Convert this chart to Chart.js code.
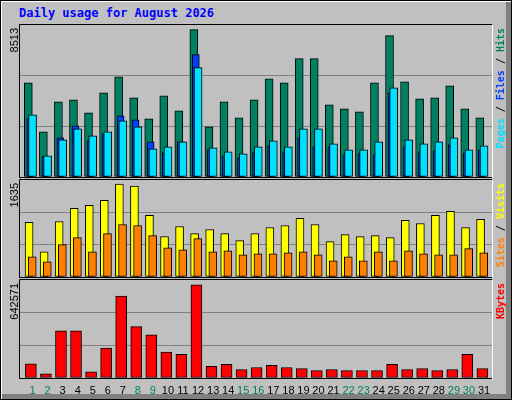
<!DOCTYPE html>
<html><head><meta charset="utf-8">
<script src="https://cdn.jsdelivr.net/npm/chart.js@4/dist/chart.umd.min.js"></script>
<style>
body{margin:0;background:#fff}
#frame{position:absolute;left:0;top:0;width:510px;height:398px;border:1px solid #000;background:#C0C0C0;box-shadow:inset 1px 1px 0 #fff,inset -5px -5px 0 #808080}
#title{position:absolute;left:19px;top:6px;font:bold 12px "DejaVu Sans Mono",monospace;color:#0000FF}
canvas{position:absolute;left:0}
</style></head><body>
<div id="frame"></div>
<div id="title">Daily usage for August 2026</div>
<canvas id="c1" style="top:24px"></canvas>
<canvas id="c2" style="top:179px"></canvas>
<canvas id="c3" style="top:279px"></canvas>
<script>
const days=[1,2,3,4,5,6,7,8,9,10,11,12,13,14,15,16,17,18,19,20,21,22,23,24,25,26,27,28,29,30,31];
const weekend=[1,2,8,9,15,16,22,23,29,30];
const hits=[5443,2605,4342,4458,3705,4863,5790,4574,3358,4690,3821,8513,2895,4342,3416,4458,5674,5443,6832,6832,4169,3937,3763,5443,8164,5500,4516,4574,5269,3937,3416];
const files=[3377,1177,2258,2953,2084,2490,3532,3300,2027,1390,2027,7064,1563,1216,1100,1448,1795,1448,2258,1737,1737,1274,1332,1274,4864,1737,1390,1505,1853,1390,1563];
const pages=[3590,1216,2142,2779,2374,2606,3242,2895,1621,1737,2027,6311,1679,1448,1332,1737,2084,1737,2779,2779,1911,1563,1563,2027,5153,2142,1911,2027,2258,1563,1795];
const visits=[960,444,977,1208,1262,1351,1635,1599,1084,711,889,764,835,764,640,764,871,906,1031,924,622,746,711,729,693,995,942,1084,1155,871,1013];
const sites=[355,267,569,693,444,764,924,906,729,515,480,675,444,462,391,409,409,427,444,391,284,355,284,444,284,462,409,391,391,498,427];
const kbytes=[98500,28140,326000,326000,42200,206400,565200,354100,297800,178200,164200,642571,79700,93800,58600,72700,86800,72700,65700,51600,58600,51600,51600,51600,93800,58600,65700,51600,58600,164200,65700];

Chart.defaults.animation=false;
Chart.defaults.font.family='"Liberation Sans",Arial,sans-serif';

function ds(vals,off,color,w,order){
  return {data:vals.map((v,i)=>({x:days[i]+off,y:v})),backgroundColor:color,borderColor:'#000',borderWidth:1,borderSkipped:false,barThickness:w,grouped:false,order:order};
}
function mkPlugin(maxVal,legend){
  return {id:'deco',afterDraw(ch){
    const c=ch.ctx,a=ch.chartArea;
    c.save();
    c.strokeStyle='#000';c.lineWidth=1;
    c.beginPath();c.moveTo(a.left-0.5,a.bottom+0.5);c.lineTo(a.left-0.5,a.top-0.5);c.lineTo(a.right+0.5,a.top-0.5);c.stroke();
    c.beginPath();c.moveTo(a.left-0.5,a.bottom+0.5);c.lineTo(a.right+0.5,a.bottom+0.5);c.stroke();
    c.strokeStyle='#fff';c.beginPath();c.moveTo(a.right+0.5,a.top-0.5);c.lineTo(a.right+0.5,a.bottom+1.5);c.stroke();
    c.translate(15,a.top+3);c.rotate(-Math.PI/2);
    c.font='11px "Liberation Sans",Arial,sans-serif';c.fillStyle='#000';c.textAlign='right';c.textBaseline='middle';
    c.fillText(String(maxVal),0,0);
    c.restore();
    c.save();
    c.translate(501,a.top+3);c.rotate(-Math.PI/2);
    c.font='bold 10px "DejaVu Sans Mono",monospace';c.textBaseline='middle';c.textAlign='left';
    let total=0;legend.forEach(p=>total+=c.measureText(p[0]).width);
    let x=-total;
    legend.forEach(p=>{c.fillStyle=p[1];c.fillText(p[0],x,0);x+=c.measureText(p[0]).width;});
    c.restore();
  }};
}
function yScale(M){
  return {min:0,max:M,display:true,ticks:{display:false},border:{display:false},
    grid:{drawTicks:false,color:(ctx)=>(ctx.index===1||ctx.index===2)?'#808080':'rgba(0,0,0,0)',lineWidth:1},
    afterBuildTicks(s){s.ticks=[0,M/3,2*M/3,M].map(v=>({value:v}));},
    afterFit(s){s.width=0;}};
}
const xMin=0.447,xMax=31.81;
function xHidden(){return {type:'linear',offset:false,min:xMin,max:xMax,display:false};}

function make(id,h,datasets,M,maxVal,legend,xs,padBottom){
  const el=document.getElementById(id);
  el.style.width='512px';el.style.height=h+'px';
  return new Chart(el,{type:'bar',data:{datasets},
    options:{responsive:false,maintainAspectRatio:false,devicePixelRatio:1,
      layout:{padding:{left:20,right:20,top:1,bottom:padBottom}},
      plugins:{legend:{display:false},tooltip:{enabled:false}},
      scales:{x:xs,y:yScale(M)}},
    plugins:[mkPlugin(maxVal,legend)]});
}
function sizeCanvas(id,h){const el=document.getElementById(id);el.width=512;el.height=h;}
sizeCanvas('c1',154);sizeCanvas('c2',99);sizeCanvas('c3',121);

const maxHits=Math.max(...hits),maxVis=Math.max(...visits),maxKb=Math.max(...kbytes);
make('c1',154,[ds(hits,0,'#008060',8,3),ds(files,0.13,'#0040FF',7,2),ds(pages,0.28,'#00E0FF',8,1)],
  maxHits/0.97,maxHits,[['Pages','#00E0FF'],[' / ','#000'],['Files','#0040FF'],[' / ','#000'],['Hits','#008060']],xHidden(),1);
make('c2',99,[ds(visits,0.05,'#FFFF00',8,2),ds(sites,0.26,'#FF8000',8,1)],
  maxVis/0.958,maxVis,[['Sites','#FF8000'],[' / ','#000'],['Visits','#FFFF00']],xHidden(),1);
make('c3',121,[ds(kbytes,0.17,'#FF0000',11,1)],
  maxKb/0.95,maxKb,[['KBytes','#FF0000']],
  {type:'linear',offset:false,min:xMin,max:xMax,display:true,border:{display:false},grid:{display:false,drawTicks:false,offset:false},
   afterBuildTicks(s){s.ticks=days.map(d=>({value:d+0.28}));},
   afterFit(s){s.height=22;},
   ticks:{autoSkip:false,maxRotation:0,padding:6,font:{size:11},
     callback:(v)=>String(Math.round(v-0.28)),
     color:(ctx)=>weekend.includes(Math.round(ctx.tick.value-0.28))?'#008060':'#000'}},0);
</script>
</body></html>
